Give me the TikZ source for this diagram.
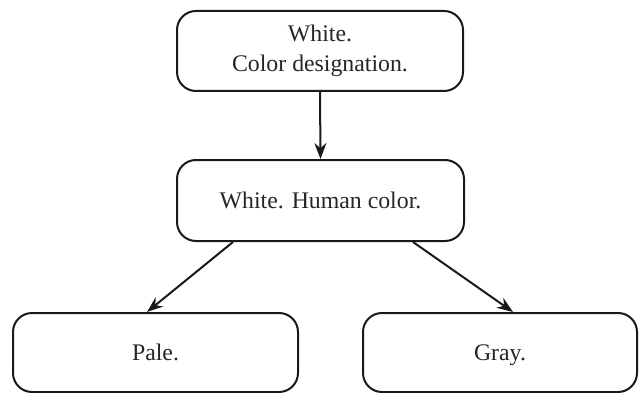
\documentclass[tikz,border=0pt]{standalone}
\usepackage{fontspec}
\setmainfont{Liberation Serif}
\usetikzlibrary{arrows.meta}
\newcommand{\nodepth}[1]{\raisebox{0pt}[\height][0pt]{#1}}
\begin{document}
\begin{tikzpicture}[x=1pt,y=-1pt,
  box/.style={draw=black!90,line width=2pt,rounded corners=19pt,inner sep=0pt,
    align=center,font=\fontsize{23.8}{30}\selectfont,text=black!85},
  arr/.style={line width=2pt,draw=black!90,-{Stealth[length=16pt,width=12pt]}}]
\useasboundingbox (0,0) rectangle (639,393);
\node[box,minimum width=286pt,minimum height=80pt] (top) at (320,51) {White.\\Color designation.};
\node[box,minimum width=287pt,minimum height=81pt] (mid) at (320.5,200.5) {White. Human color.};
\node[box,minimum width=285pt,minimum height=79pt] (bl) at (155.5,352.5) {Pale.};
\node[box,minimum width=274pt,minimum height=79pt] (br) at (500,352.5) {\nodepth{Gray.}};
\draw[arr] (top.south) -- (mid.north);
\draw[arr] ([xshift=-87.5pt]mid.south) -- ([xshift=-8.5pt]bl.north);
\draw[arr] ([xshift=92.5pt]mid.south) -- ([xshift=13pt]br.north);
\end{tikzpicture}
\end{document}
